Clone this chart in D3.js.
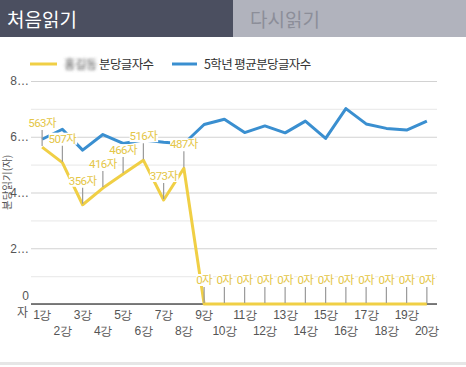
<!DOCTYPE html>
<html>
<head>
<meta charset="utf-8">
<script src="https://cdn.jsdelivr.net/npm/d3@7"></script>
<style>
  body { margin: 0; background: #fff; }
  svg { display: block; font-family: Roboto, "Noto Sans CJK KR", sans-serif; }
</style>
</head>
<body>
<svg width="466" height="367"></svg>
<script>
const lessons = d3.range(1, 21).map((i) => i + "강");
const myWpm = [563, 507, 356, 416, 466, 516, 373, 487, 0, 0, 0, 0, 0, 0, 0, 0, 0, 0, 0, 0];
const avgWpm = [591, 627, 552, 608, 576, 588, 580, 575, 644, 663, 615, 639, 614, 656, 594, 701, 646, 630, 624, 656];
const yTicks = [0, 100, 200, 300, 400, 500, 600, 700, 800];
const yLabels = { 0: "0", 200: "2…", 400: "4…", 600: "6…", 800: "8…" };

const svg = d3.select("svg");

// tabs
svg.append("rect").attr("width", 233).attr("height", 37).attr("fill", "#4b4f60");
svg.append("rect").attr("x", 233).attr("width", 233).attr("height", 37).attr("fill", "#b1b3bd");
svg.append("text").attr("x", 7).attr("y", 27).attr("fill", "#fff")
  .style("font-size", "19px").style("font-family", "'Noto Sans CJK KR'").text("처음읽기");
svg.append("text").attr("x", 250).attr("y", 27).attr("fill", "#8c8e99")
  .style("font-size", "19px").style("font-family", "'Noto Sans CJK KR'").text("다시읽기");

// legend
const defs = svg.append("defs");
defs.append("filter").attr("id", "blur").append("feGaussianBlur").attr("stdDeviation", 1.6);

svg.append("line").attr("x1", 30).attr("x2", 57).attr("y1", 64).attr("y2", 64)
  .attr("stroke", "#f0cf45").attr("stroke-width", 3);
svg.append("text").attr("x", 64).attr("y", 69).attr("fill", "#555").attr("filter", "url(#blur)")
  .style("font-size", "12.5px").style("font-family", "'Noto Sans CJK KR'").attr("letter-spacing", -0.6).text("홍길동");
svg.append("text").attr("x", 99).attr("y", 69).attr("fill", "#333")
  .style("font-size", "12.5px").style("font-family", "'Noto Sans CJK KR'").attr("letter-spacing", -0.6).text("분당글자수");
svg.append("line").attr("x1", 172).attr("x2", 197).attr("y1", 64).attr("y2", 64)
  .attr("stroke", "#3a8fd0").attr("stroke-width", 3);
svg.append("text").attr("x", 204).attr("y", 69).attr("fill", "#333")
  .style("font-size", "12.5px").style("font-family", "'Noto Sans CJK KR'").attr("letter-spacing", -0.6).text("5학년 평균분당글자수");

// scales
const x = d3.scaleBand().domain(lessons).range([32, 437]);
const cx = (d) => x(d) + x.bandwidth() / 2;
const y = d3.scaleLinear().domain([0, 800]).range([304, 81]);

// y grid + labels
const yAxis = svg.append("g")
  .attr("transform", "translate(31,0)")
  .call(d3.axisLeft(y).tickValues(yTicks).tickSize(-406).tickPadding(2)
    .tickFormat((d) => yLabels[d] || ""));
yAxis.select(".domain").remove();
yAxis.selectAll(".tick line")
  .attr("stroke", (d) => (d % 200 === 0 ? "#d2d2d2" : "#ececec"))
  .attr("stroke-width", 1.2);
yAxis.selectAll(".tick text").attr("fill", "#555").style("font-size", "12px")
  .attr("dy", (d) => (d === 0 ? "-0.35em" : "0.32em"));

svg.append("text").attr("x", 28).attr("y", 317).attr("text-anchor", "end")
  .attr("fill", "#555").style("font-size", "12px").style("font-family", "'Noto Sans CJK KR'").text("자");

// axis title, rotated
svg.append("text")
  .attr("transform", "translate(11,210) rotate(-90)")
  .attr("fill", "#555").style("font-size", "10.5px").style("font-family", "'Noto Sans CJK KR'")
  .text("분당읽기(자)");

// baseline
svg.append("line").attr("x1", 31).attr("x2", 437).attr("y1", 304).attr("y2", 304)
  .attr("stroke", "#555").attr("stroke-width", 1.5);

// x axis
const xAxis = svg.append("g")
  .attr("transform", "translate(0,304)")
  .call(d3.axisBottom(x).tickSize(0).tickPadding(6));
xAxis.select(".domain").remove();
xAxis.selectAll(".tick text")
  .attr("fill", "#555").style("font-size", "12px").attr("letter-spacing", -0.5)
  .attr("dy", (d, i) => (i % 2 === 0 ? "0.71em" : "2.05em"));

// lines
const line = d3.line().x((d) => cx(d[0])).y((d) => y(d[1]));
svg.append("path")
  .datum(lessons.map((l, i) => [l, avgWpm[i]]))
  .attr("d", line).attr("fill", "none")
  .attr("stroke", "#3a8fd0").attr("stroke-width", 3).attr("stroke-linejoin", "round");
svg.append("path")
  .datum(lessons.map((l, i) => [l, myWpm[i]]))
  .attr("d", line).attr("fill", "none")
  .attr("stroke", "#f0cf45").attr("stroke-width", 3).attr("stroke-linejoin", "round");

// data labels with white backing
const lab = svg.append("g").selectAll("g")
  .data(lessons.map((l, i) => [l, myWpm[i]]))
  .join("g")
  .attr("transform", (d) => `translate(${cx(d[0])},${y(d[1])})`);

lab.append("line").attr("y1", -17).attr("y2", -1)
  .attr("stroke", "#9a9a9a").attr("stroke-width", 1.2);
lab.append("rect").attr("fill", "#fff");
lab.append("text")
  .attr("y", -20).attr("text-anchor", "middle")
  .attr("fill", "#e4c647").style("font-size", "11.5px").attr("letter-spacing", -0.6)
  .text((d) => d[1] + "자");
lab.each(function () {
  const g = d3.select(this);
  const b = g.select("text").node().getBBox();
  g.select("rect").attr("x", b.x).attr("y", b.y + 1).attr("width", b.width).attr("height", b.height - 2);
});

// bottom separator
svg.append("rect").attr("x", 0).attr("y", 362).attr("width", 466).attr("height", 3).attr("fill", "#e6e6e6");
</script>
</body>
</html>
